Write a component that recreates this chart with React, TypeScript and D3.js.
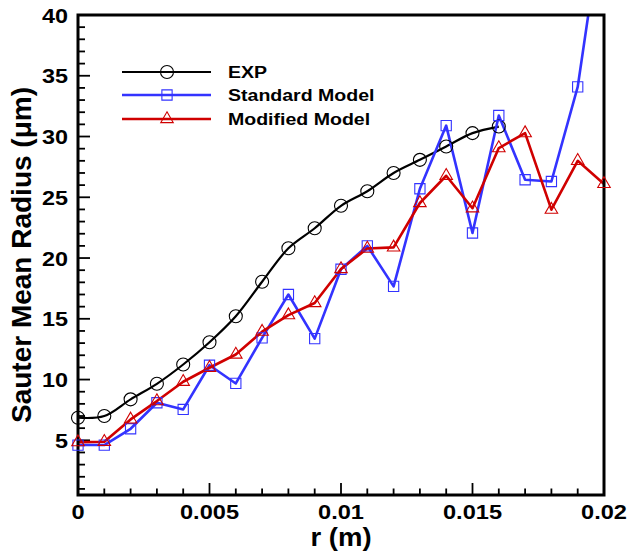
import React from 'react';
import * as d3 from 'd3';

// radial positions (m)
const R = [0, 0.001, 0.002, 0.003, 0.004, 0.005, 0.006, 0.007, 0.008, 0.009, 0.01,
  0.011, 0.012, 0.013, 0.014, 0.015, 0.016, 0.017, 0.018, 0.019, 0.02];

// Sauter mean radius (um)
const EXP = [6.86, 7.0, 8.37, 9.65, 11.24, 13.07, 15.21, 18.05, 20.8, 22.45, 24.3,
  25.5, 27.0, 28.08, 29.18, 30.28, 30.82];
const STANDARD = [4.61, 4.61, 5.95, 8.09, 7.54, 11.18, 9.68, 13.43, 17.0, 13.37, 19.08,
  21.0, 17.67, 25.7, 30.9, 22.06, 31.73, 26.44, 26.3, 34.08, 48.8];
const MODIFIED = [4.85, 4.88, 6.72, 8.23, 9.82, 10.97, 12.06, 13.94, 15.3, 16.3, 19.1,
  20.78, 20.88, 24.53, 26.77, 24.1, 29.05, 30.28, 23.98, 28.0, 26.1];

const X_TICKS = [0, 0.005, 0.01, 0.015, 0.02];
const X_TICK_LABELS = ['0', '0.005', '0.01', '0.015', '0.02'];
const Y_TICKS = [5, 10, 15, 20, 25, 30, 35, 40];

const SERIES = [
  { name: 'EXP', values: EXP, color: '#000000', width: 2.2, marker: 'circle', smooth: true },
  { name: 'Standard Model', values: STANDARD, color: '#3333ff', width: 2.6, marker: 'square', smooth: false },
  { name: 'Modified Model', values: MODIFIED, color: '#d00000', width: 2.6, marker: 'triangle', smooth: false },
];

const FONT = '"Liberation Sans", Arial, Helvetica, sans-serif';
const W = 632;
const H = 556;
const left = 78, right = 604, top = 15, bottom = 495;

const x = d3.scaleLinear().domain([0, 0.02]).range([left, right]);
const y = d3.scaleLinear().domain([0.5, 40]).range([bottom, top]);

const SYMBOLS = {
  circle: d3.symbol(d3.symbolCircle, 133)(),
  square: d3.symbol(d3.symbolSquare, 105)(),
  triangle: d3.symbol(d3.symbolTriangle, 68)(),
};

function Label({ x, y, size, sx = 1, anchor = 'start', rotate = 0, children }) {
  return (
    <text
      transform={`translate(${x},${y}) rotate(${rotate}) scale(${sx},1)`}
      fontFamily={FONT}
      fontWeight="bold"
      fontSize={size}
      textAnchor={anchor}
      fill="#000"
    >
      {children}
    </text>
  );
}

export default function App() {
  const xMinor = d3.range(0, 21).map(i => i * 0.001);
  const yMinor = d3.range(1, 41);
  const [yLo, yHi] = y.domain();

  return (
    <svg width={W} height={H} style={{ position: 'absolute', left: 0, top: 0, background: '#fff' }}>
      <defs>
        <clipPath id="plot-clip">
          <rect x={left} y={top} width={right - left} height={bottom - top} />
        </clipPath>
      </defs>

      {/* ticks (pointing inside) */}
      {yMinor.map(v => (
        <line key={'ym' + v} x1={left} x2={left + (v % 5 === 0 ? 12 : 7)} y1={y(v)} y2={y(v)}
          stroke="#000" strokeWidth={1.8} />
      ))}
      {xMinor.map((v, i) => (
        <line key={'xm' + i} x1={x(v)} x2={x(v)} y1={bottom} y2={bottom - (i % 5 === 0 ? 12 : 6.5)}
          stroke="#000" strokeWidth={1.8} />
      ))}

      {/* series lines, clipped to the plot box */}
      <g clipPath="url(#plot-clip)">
        {SERIES.map(s => {
          const line = d3.line<number>()
            .x((_, i) => x(R[i]))
            .y(d => y(d))
            .curve(s.smooth ? d3.curveCatmullRom : d3.curveLinear);
          return <path key={s.name} d={line(s.values) || ''} fill="none" stroke={s.color}
            strokeWidth={s.width} strokeLinejoin="round" />;
        })}
      </g>

      {/* frame */}
      <rect x={left} y={top} width={right - left} height={bottom - top} fill="none" stroke="#000" strokeWidth={3} />

      {/* markers (not clipped, only those inside the y range) */}
      {SERIES.map(s => s.values.map((v, i) => (v >= yLo && v <= yHi) ? (
        <path key={s.name + i} d={SYMBOLS[s.marker]} transform={`translate(${x(R[i])},${y(v)})`}
          fill="none" stroke={s.color} strokeWidth={1.1} />
      ) : null))}

      {/* tick labels */}
      {Y_TICKS.map(v => (
        <Label key={'yl' + v} x={68} y={y(v) + 7.5} size={20} sx={1.17} anchor="end">{v}</Label>
      ))}
      {X_TICKS.map((v, i) => (
        <Label key={'xl' + v} x={x(v)} y={519} size={20.5} sx={1.15} anchor="middle">{X_TICK_LABELS[i]}</Label>
      ))}

      {/* axis titles */}
      <Label x={(left + right) / 2} y={546} size={25} sx={1.1} anchor="middle">r (m)</Label>
      <Label x={31} y={(top + bottom) / 2} size={28} rotate={-90} anchor="middle">Sauter Mean Radius (μm)</Label>

      {/* legend */}
      {SERIES.map((s, i) => {
        const ly = [72, 95, 119][i];
        return (
          <g key={'lg' + s.name}>
            <line x1={122} x2={211} y1={ly} y2={ly} stroke={s.color} strokeWidth={s.width} />
            <path d={SYMBOLS[s.marker]} transform={`translate(167,${ly})`} fill="none" stroke={s.color} strokeWidth={1.1} />
            <Label x={228} y={ly + 6} size={17} sx={1.15}>{s.name}</Label>
          </g>
        );
      })}
    </svg>
  );
}
